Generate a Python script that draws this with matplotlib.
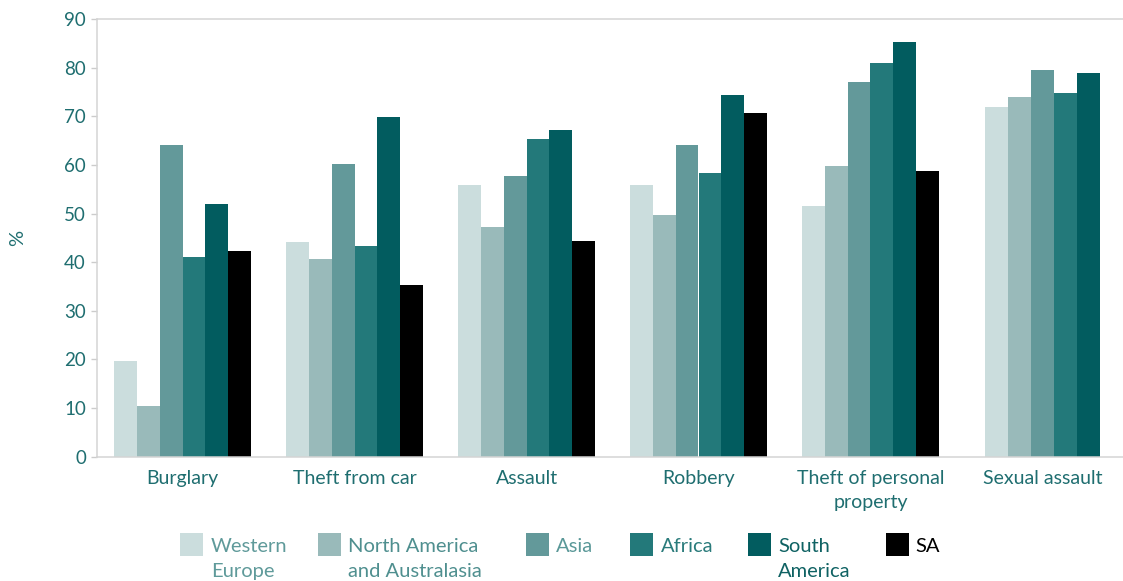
import numpy as np
import matplotlib
matplotlib.use('Agg')
import matplotlib.pyplot as plt
from matplotlib.patches import Rectangle

plt.rcParams['font.family'] = ['Lato', 'DejaVu Sans']

# crime categories and share (%) per region
categories = ['Burglary', 'Theft from car', 'Assault', 'Robbery',
              'Theft of personal\nproperty', 'Sexual assault']
regions = ['Western\nEurope', 'North America\nand Australasia', 'Asia',
           'Africa', 'South\nAmerica', 'SA']

western_europe = [19.6, 44.2, 55.8, 55.8, 51.6, 72.0]
north_america = [10.3, 40.7, 47.3, 49.8, 59.7, 74.1]
asia = [64.2, 60.3, 57.8, 64.1, 77.0, 79.6]
africa = [41.0, 43.4, 65.3, 58.3, 81.1, 74.9]
south_america = [52.0, 69.9, 67.2, 74.5, 85.3, 78.9]
sa = [42.3, 35.4, 44.4, 70.8, 58.7, np.nan]

series = [western_europe, north_america, asia, africa, south_america, sa]
colors = ['#cbdddd', '#99baba', '#63999a', '#23797a', '#025c5f', '#000000']
text_colors = ['#5f9a9a', '#4f8f8f', '#5a9898', '#2a7b7b', '#0f6263', '#000000']
teal = '#1f6e70'

W, H = 1123, 581
fig = plt.figure(figsize=(W / 100, H / 100), dpi=100)

# axes placed in pixel terms (left, bottom edge, right, top)
x0, y_bot, y_top = 96.5, 456.5, 19.3
group_px = 172
ax = fig.add_axes([x0 / W, (H - y_bot) / H, 6 * group_px / W, (y_bot - y_top) / H])

bar_w = 0.8 / 6
data = np.array(series, dtype=float)
for c in range(len(categories)):
    present = [i for i in range(len(series)) if not np.isnan(data[i, c])]
    n = len(present)
    for k, i in enumerate(present):
        offset = (k - (n - 1) / 2) * bar_w
        ax.bar(c + offset, data[i, c], width=bar_w, color=colors[i], linewidth=0)

ax.set_xlim(-0.5, 5.5)
ax.set_ylim(0, 90)
ax.set_yticks(np.arange(0, 91, 10))
ax.set_xticks(range(len(categories)))
ax.set_xticklabels(categories, fontsize=14, color=teal, linespacing=1.45)
ax.tick_params(axis='x', length=0, pad=10)
ax.tick_params(axis='y', length=4.6, width=1.0, color='#cccccc', pad=3,
               labelsize=13.5, labelcolor=teal)

for side in ['left', 'bottom', 'top']:
    ax.spines[side].set_color('#d4d4d4')
    ax.spines[side].set_linewidth(1.1)
ax.spines['right'].set_visible(False)

fig.text(18 / W, 1 - 238 / H, '%', rotation=90, ha='center', va='center',
         fontsize=14.5, color=teal)

# legend row below the axes
sq_x = [180, 318.3, 526, 630, 748.3, 886]
txt_x = [210.7, 348.3, 556, 660.7, 778.3, 915]
sq_top, sq_size = 533.3, 22.5
for i, name in enumerate(regions):
    fig.add_artist(Rectangle((sq_x[i] / W, 1 - (sq_top + sq_size) / H),
                             sq_size / W, sq_size / H, transform=fig.transFigure,
                             color=colors[i], linewidth=0))
    fig.text(txt_x[i] / W, 1 - 551.7 / H, name.split('\n')[0], ha='left',
             va='baseline', fontsize=14.5, color=text_colors[i])
    if '\n' in name:
        fig.text(txt_x[i] / W, 1 - 576.7 / H, name.split('\n')[1], ha='left',
                 va='baseline', fontsize=14.5, color=text_colors[i])

fig.savefig('out.png', dpi=100)
